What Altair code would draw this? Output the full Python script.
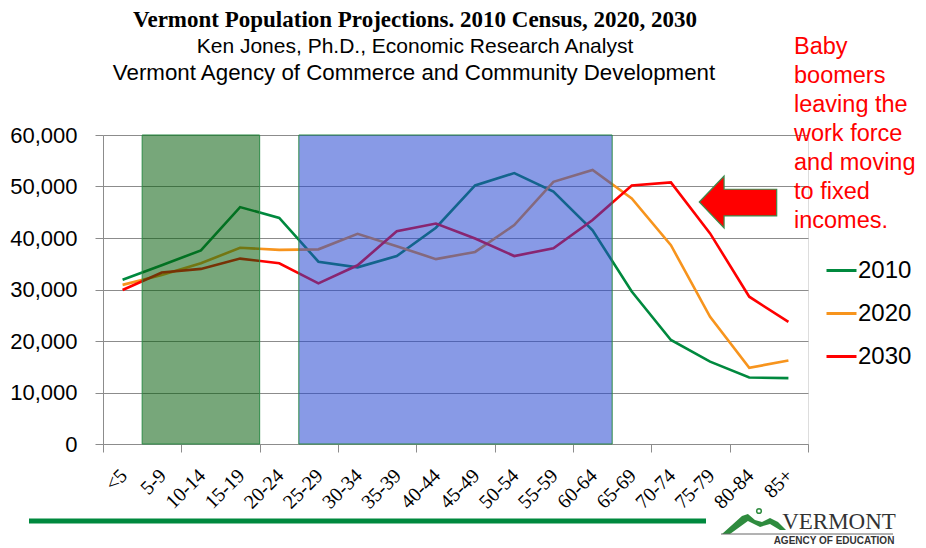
import altair as alt
import pandas as pd

# ---------------- data ----------------
ages = ["<5", "5-9", "10-14", "15-19", "20-24", "25-29", "30-34", "35-39", "40-44",
        "45-49", "50-54", "55-59", "60-64", "65-69", "70-74", "75-79", "80-84", "85+"]
pop_2010 = [31900, 34700, 37600, 46000, 43900, 35400, 34300, 36500, 42000,
            50200, 52600, 49000, 41500, 29600, 20200, 16000, 12900, 12800]
pop_2020 = [30900, 32800, 35100, 38100, 37700, 37800, 40800, 38400, 35900,
            37300, 42500, 50900, 53200, 47700, 38600, 24700, 14800, 16200]
pop_2030 = [29900, 33300, 34000, 36000, 35100, 31200, 34700, 41300, 42800,
            39900, 36500, 38000, 43500, 50200, 50800, 40900, 28600, 23700]
years = ["2010", "2020", "2030"]
year_colors = ["#00893e", "#f7941d", "#ff0000"]

# shaded age ranges (first group, last group)
green_span = ("5-9", "15-19")
blue_span = ("25-29", "60-64")

annotation_lines = ["Baby", "boomers", "leaving the", "work force",
                    "and moving", "to fixed", "incomes."]

# ---------------- tables ----------------
rows = []
for yr, vals in zip(years, [pop_2010, pop_2020, pop_2030]):
    for i, (a, v) in enumerate(zip(ages, vals)):
        rows.append({"age": a, "pos": i + 0.5, "year": yr, "pop": v})
df = pd.DataFrame(rows)

lab_df = pd.DataFrame({"age": ages, "pos": [i + 0.5 for i in range(len(ages))]})

shade_df = pd.DataFrame({
    "start": [ages.index(green_span[0]), ages.index(blue_span[0])],
    "end": [ages.index(green_span[1]) + 1, ages.index(blue_span[1]) + 1],
    "fill": ["#035c0a", "#2445d1"],
})

one = pd.DataFrame({"k": [0]})

W, H = 705, 309
N = len(ages)

xscale = alt.Scale(domain=[0, N], nice=False, zero=False)
yscale = alt.Scale(domain=[0, 60000], nice=False)

base = alt.Chart(df)

lines = base.mark_line(strokeWidth=2.6).encode(
    x=alt.X("pos:Q", scale=xscale,
            axis=alt.Axis(values=list(range(N + 1)), labels=False, ticks=True, tickSize=8,
                          tickColor="#8c8c8c", domainColor="#8c8c8c", grid=False, title=None)),
    y=alt.Y("pop:Q", scale=yscale,
            axis=alt.Axis(values=list(range(0, 60001, 10000)), format=",.0f", title=None,
                          labelFont="Liberation Sans", labelFontSize=22, labelColor="#000000",
                          labelPadding=18, tickSize=8, tickColor="#8c8c8c",
                          domainColor="#8c8c8c", gridColor="#8c8c8c", grid=True)),
    color=alt.Color("year:N", scale=alt.Scale(domain=years, range=year_colors),
                    legend=alt.Legend(orient="none", legendX=722, legendY=119, title=None,
                                      symbolType="stroke", symbolSize=900,
                                      symbolStrokeWidth=3, labelFont="Liberation Sans",
                                      labelFontSize=24, labelColor="#000000",
                                      labelOffset=0, rowPadding=14)),
)

shades = alt.Chart(shade_df).mark_rect(fillOpacity=0.54, stroke="#2d8a46", strokeWidth=1).encode(
    x=alt.X("start:Q", scale=xscale),
    x2="end:Q",
    y=alt.value(0),
    y2=alt.value(H),
    fill=alt.Fill("fill:N", scale=None),
)

xlabels = alt.Chart(lab_df).mark_text(
    angle=315, align="right", baseline="middle", font="Liberation Serif",
    fontSize=20, color="#000000", dx=2
).encode(
    x=alt.X("pos:Q", scale=xscale),
    y=alt.value(H + 30),
    text="age:N",
)

title1 = alt.Chart(one).mark_text(
    font="Liberation Serif", fontSize=23, fontWeight="bold", color="#000000",
    align="center", baseline="middle"
).encode(x=alt.value(312), y=alt.value(-115),
         text=alt.value("Vermont Population Projections. 2010 Census, 2020, 2030"))

title2 = alt.Chart(one).mark_text(
    font="Liberation Sans", fontSize=21, color="#000000", align="center", baseline="middle"
).encode(x=alt.value(312), y=alt.value(-88),
         text=alt.value("Ken Jones, Ph.D., Economic Research Analyst"))

title3 = alt.Chart(one).mark_text(
    font="Liberation Sans", fontSize=22.3, color="#000000", align="center", baseline="middle"
).encode(x=alt.value(311), y=alt.value(-62),
         text=alt.value("Vermont Agency of Commerce and Community Development"))

note = alt.Chart(one).mark_text(
    font="Liberation Sans", fontSize=23.5, color="#ff0000", align="left",
    baseline="alphabetic", lineHeight=29
).encode(x=alt.value(691), y=alt.value(-81), text=alt.value(annotation_lines))

arrow_path = ("M -1 0 L -0.36 -0.67 L -0.36 -0.33 L 1 -0.33 L 1 0.36 "
              "L -0.36 0.36 L -0.36 0.67 Z")
arrow = alt.Chart(one).mark_point(
    shape=arrow_path, filled=True, fill="#ff0000", stroke="#3c8c4c", strokeWidth=1.2,
    opacity=1, size=5990
).encode(x=alt.value(635), y=alt.value(67))

green_bar = alt.Chart(one).mark_rule(color="#00893e", strokeWidth=5).encode(
    x=alt.value(-74), x2=alt.value(603), y=alt.value(386))

mountain_path = ("M -1 0.31 L -0.375 -0.25 L -0.19 -0.31 L 0.03 -0.125 L 0.25 -0.06 "
                 "L 0.5 -0.19 L 0.75 -0.06 L 1 0.19 L 0.81 0.19 L 0.5 0 L 0.19 0.09 "
                 "L -0.19 -0.09 L -0.75 0.31 Z")
mountain = alt.Chart(one).mark_point(
    shape=mountain_path, filled=True, fill="#2e8b3e", opacity=1, size=4096
).encode(x=alt.value(651), y=alt.value(389))

sun = alt.Chart(one).mark_point(
    shape="circle", filled=False, stroke="#2e8b3e", strokeWidth=1.5, size=22, opacity=1
).encode(x=alt.value(656), y=alt.value(376))

logo_rule = alt.Chart(one).mark_rule(color="#666666", strokeWidth=1).encode(
    x=alt.value(618), x2=alt.value(790), y=alt.value(399))

logo_text = alt.Chart(one).mark_text(
    font="Liberation Serif", fontSize=23, color="#333333", align="center", baseline="alphabetic"
).encode(x=alt.value(736), y=alt.value(394), text=alt.value("VERMONT"))

logo_sub = alt.Chart(one).mark_text(
    font="Liberation Sans Narrow, Liberation Sans", fontSize=10, fontWeight="bold",
    color="#333333", align="center", baseline="middle"
).encode(x=alt.value(731), y=alt.value(406), text=alt.value("AGENCY OF EDUCATION"))

chart = alt.layer(
    lines, shades, xlabels, title1, title2, title3, note, arrow,
    green_bar, mountain, sun, logo_rule, logo_text, logo_sub
).properties(
    width=W, height=H,
    autosize="none",
    padding={"left": 95, "top": 127, "right": 108, "bottom": 104},
).configure_view(strokeWidth=0).configure(background="#ffffff")

chart.save("out.html", embed_options={"renderer": "svg", "actions": False})
